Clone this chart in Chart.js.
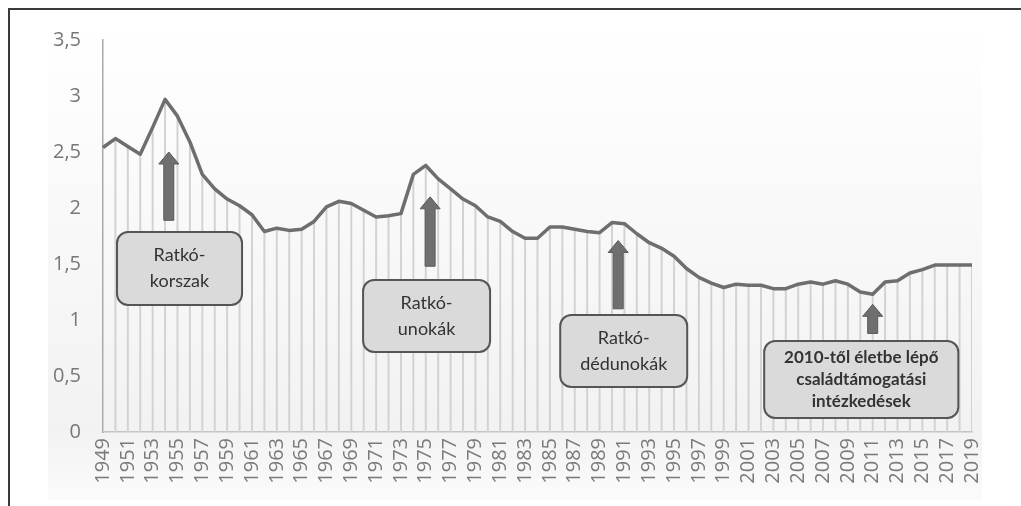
<!DOCTYPE html>
<html>
<head>
<meta charset="utf-8">
<script src="https://cdn.jsdelivr.net/npm/chart.js@4"></script>
<style>
    html, body { margin: 0; padding: 0; background: #fff; }
    #wrap { width: 1021px; height: 506px; position: relative; }
</style>
</head>
<body>
<div id="wrap"><canvas id="tfr-chart" width="1021" height="506"></canvas></div>
<script>
const years = [
    '1949', '1950', '1951', '1952', '1953', '1954', '1955', '1956', '1957', '1958',
    '1959', '1960', '1961', '1962', '1963', '1964', '1965', '1966', '1967', '1968',
    '1969', '1970', '1971', '1972', '1973', '1974', '1975', '1976', '1977', '1978',
    '1979', '1980', '1981', '1982', '1983', '1984', '1985', '1986', '1987', '1988',
    '1989', '1990', '1991', '1992', '1993', '1994', '1995', '1996', '1997', '1998',
    '1999', '2000', '2001', '2002', '2003', '2004', '2005', '2006', '2007', '2008',
    '2009', '2010', '2011', '2012', '2013', '2014', '2015', '2016', '2017', '2018',
    '2019'
];

const fertility = [
    2.54, 2.62, 2.55, 2.48, 2.72, 2.97, 2.82, 2.59, 2.30, 2.17,
    2.08, 2.02, 1.94, 1.79, 1.82, 1.80, 1.81, 1.88, 2.01, 2.06,
    2.04, 1.98, 1.92, 1.93, 1.95, 2.30, 2.38, 2.26, 2.17, 2.08,
    2.02, 1.92, 1.88, 1.79, 1.73, 1.73, 1.83, 1.83, 1.81, 1.79,
    1.78, 1.87, 1.86, 1.77, 1.69, 1.64, 1.57, 1.46, 1.38, 1.33,
    1.29, 1.32, 1.31, 1.31, 1.28, 1.28, 1.32, 1.34, 1.32, 1.35,
    1.32, 1.25, 1.23, 1.34, 1.35, 1.42, 1.45, 1.49, 1.49, 1.49,
    1.49
];

const yTicks = [0, 0.5, 1, 1.5, 2, 2.5, 3, 3.5];

// annotation arrows: year position, tip value, tail value
const arrows = [
    { year: 1954.3, tip: 2.50, tail: 1.89 },
    { year: 1975.35, tip: 2.10, tail: 1.48 },
    { year: 1990.5, tip: 1.71, tail: 1.10 },
    { year: 2011.0, tip: 1.14, tail: 0.88 }
];

// annotation boxes: year span, value span, text lines
const boxes = [
    { from: 1950.13, to: 1960.2, top: 1.786, bottom: 1.134, bold: false, lines: ['Ratkó-', 'korszak'] },
    { from: 1969.95, to: 1980.18, top: 1.357, bottom: 0.714, bold: false, lines: ['Ratkó-', 'unokák'] },
    { from: 1985.83, to: 1996.06, top: 1.045, bottom: 0.402, bold: false, lines: ['Ratkó-', 'dédunokák'] },
    { from: 2002.26, to: 2017.9, top: 0.8125, bottom: 0.125, bold: true, lines: ['2010-től életbe lépő', 'családtámogatási', 'intézkedések'] }
];

const FONT = '"Open Sans", "DejaVu Sans", sans-serif';
const BOX_FONT = 'Lato, "Open Sans", sans-serif';

const backdrop = {
    id: 'backdrop',
    beforeDraw(chart) {
        const ctx = chart.ctx;
        ctx.save();
        ctx.fillStyle = '#ffffff';
        ctx.fillRect(0, 0, chart.width, chart.height);
        const g = ctx.createLinearGradient(0, 22, 0, 500);
        g.addColorStop(0, '#ffffff');
        g.addColorStop(0.85, '#f2f2f2');
        g.addColorStop(1, '#fbfbfb');
        ctx.fillStyle = g;
        ctx.fillRect(48, 22, 934, 478);
        ctx.restore();
    },
    afterDraw(chart) {
        const ctx = chart.ctx;
        const xs = chart.scales.x;
        const ys = chart.scales.y;
        const px = yr => xs.getPixelForValue(yr - 1949);
        ctx.save();

        // arrows
        arrows.forEach(a => {
            const cx = px(a.year);
            const tipY = ys.getPixelForValue(a.tip);
            const tailY = ys.getPixelForValue(a.tail);
            const sh = 5, hw = 10, hh = 12;
            ctx.beginPath();
            ctx.moveTo(cx, tipY);
            ctx.lineTo(cx + hw, tipY + hh);
            ctx.lineTo(cx + sh, tipY + hh);
            ctx.lineTo(cx + sh, tailY);
            ctx.lineTo(cx - sh, tailY);
            ctx.lineTo(cx - sh, tipY + hh);
            ctx.lineTo(cx - hw, tipY + hh);
            ctx.closePath();
            ctx.fillStyle = '#6f6f6f';
            ctx.fill();
            ctx.strokeStyle = '#5a5a5a';
            ctx.lineWidth = 1;
            ctx.stroke();
        });

        // boxes
        boxes.forEach(b => {
            const x1 = px(b.from), x2 = px(b.to);
            const y1 = ys.getPixelForValue(b.top), y2 = ys.getPixelForValue(b.bottom);
            ctx.beginPath();
            ctx.roundRect(x1, y1, x2 - x1, y2 - y1, 11);
            ctx.fillStyle = '#dadada';
            ctx.fill();
            ctx.strokeStyle = '#555555';
            ctx.lineWidth = 2;
            ctx.stroke();

            ctx.fillStyle = '#333333';
            ctx.font = (b.bold ? 'bold 17px ' : '18px ') + BOX_FONT;
            ctx.textAlign = 'center';
            ctx.textBaseline = 'middle';
            const lh = b.bold ? 22 : 26;
            const mid = (y1 + y2) / 2;
            const start = mid - lh * (b.lines.length - 1) / 2;
            b.lines.forEach((t, i) => ctx.fillText(t, (x1 + x2) / 2, start + i * lh));
        });

        // frame
        ctx.strokeStyle = '#3a3a3a';
        ctx.lineWidth = 2;
        ctx.beginPath();
        ctx.moveTo(9, chart.height);
        ctx.lineTo(9, 9);
        ctx.lineTo(chart.width, 9);
        ctx.stroke();
        ctx.restore();
    }
};

const ctx = document.getElementById('tfr-chart').getContext('2d');
new Chart(ctx, {
    type: 'line',
    data: {
        labels: years,
        datasets: [
            {
                type: 'line',
                data: fertility,
                borderColor: '#6e6e6e',
                borderWidth: 3.5,
                pointRadius: 0,
                tension: 0,
                borderJoinStyle: 'round',
                order: 1
            },
            {
                type: 'bar',
                data: fertility,
                backgroundColor: '#d2d2d2',
                barThickness: 1.3,
                order: 2
            }
        ]
    },
    options: {
        responsive: false,
        animation: false,
        events: [],
        layout: { padding: { top: 40, right: 49, left: 0, bottom: 0 } },
        plugins: { legend: { display: false }, tooltip: { enabled: false } },
        scales: {
            x: {
                offset: false,
                grid: { display: false, drawTicks: false, offset: false },
                border: { display: true, color: '#c4c4c4', width: 1.5 },
                ticks: {
                    autoSkip: false,
                    maxRotation: 90,
                    minRotation: 90,
                    padding: 6,
                    color: '#7a7a7a',
                    font: { family: FONT, size: 20 },
                    callback: (v, i) => (i % 2 === 0 ? years[i] : '')
                },
                afterFit: s => { s.height = 74; }
            },
            y: {
                min: 0,
                max: 3.5,
                afterBuildTicks: s => { s.ticks = yTicks.map(v => ({ value: v })); },
                grid: { display: false, drawTicks: false },
                border: { display: true, color: '#a9a9a9', width: 1.5 },
                ticks: {
                    padding: 22,
                    color: '#777777',
                    font: { family: FONT, size: 20 },
                    callback: v => String(v).replace('.', ',')
                },
                afterFit: s => { s.width = 103; }
            }
        }
    },
    plugins: [backdrop]
});
</script>
</body>
</html>
